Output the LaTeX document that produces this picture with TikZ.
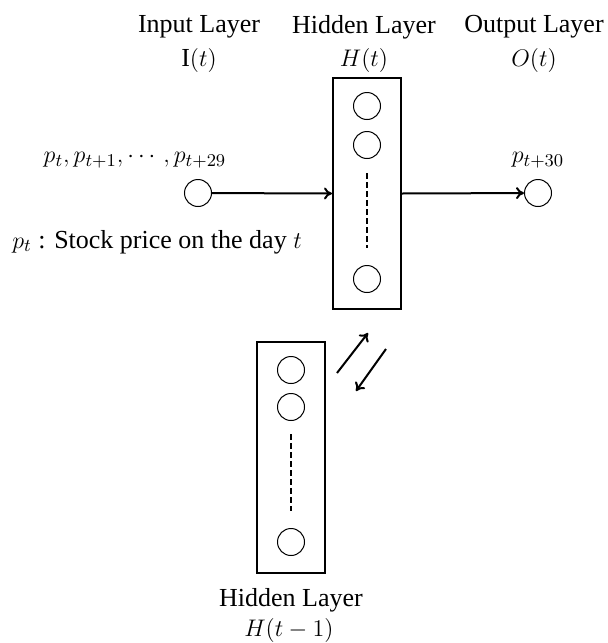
\documentclass[tikz,border=0pt]{standalone}
\usepackage{fontspec}
\setmainfont{Liberation Serif}
\usepackage{amsmath}
\usepackage{tikz}
\usetikzlibrary{arrows.meta,positioning}

\begin{document}
\begin{tikzpicture}[
    x=0.5pt, y=-0.5pt,
    every node/.style={font=\fontsize{13}{15}\selectfont},
    layer/.style={draw, line width=1pt, minimum width=34pt, minimum height=115.5pt,
                  inner sep=0pt},
    unit/.style={draw, circle, line width=0.5pt, minimum size=13.5pt, inner sep=0pt},
    title/.style={align=center, inner sep=1pt},
    arrow/.style={-{To[length=4pt,width=6pt]}, line width=1pt},
    dots/.style={dashed, line width=0.8pt, dash pattern=on 3pt off 1.5pt}
]
\useasboundingbox (0,0) rectangle (607,643);

% layers
\node[layer] (hid) at (367,193.5) {};
\node[layer] (prev) at (291,457) {};

% units
\node[unit] (in) at (198,193) {};
\node[unit] (out) at (538,193) {};
\node[unit] (h1) at (367,106) {};
\node[unit] (h2) at (367,145) {};
\node[unit] (h3) at (367,279) {};
\node[unit] (g1) at (291,370) {};
\node[unit] (g2) at (291,407) {};
\node[unit] (g3) at (291,542) {};
\draw[dots] ([yshift=-7pt]h2.south) -- ([yshift=8.5pt]h3.north);
\draw[dots] ([yshift=-6.5pt]g2.south) -- ([yshift=8.5pt]g3.north);

% titles
\node[title] (tin) at (199,27) {Input Layer};
\node[title] (tin2) at (199,60) {I$(t)$};
\node[title] (thid) at (364,27) {Hidden Layer};
\node[title] (thid2) at (364,60) {$H(t)$};
\node[title] (tout) at (534,27) {Output Layer};
\node[title] (tout2) at (534,60) {$O(t)$};
\node[title] (tprev) at (291,600) {Hidden Layer};
\node[title] (tprev2) at (289,630) {$H(t-1)$};

\node[title] (xin) at (135,160) {$p_t, p_{t+1}, \cdots, p_{t+29}$};
\node[title] (xout) at (538,160) {$p_{t+30}$};
\node[title, anchor=west] (note) at (10,242) {$p_t$~: Stock price on the day $t$};

% connections
\draw[arrow] (in) -- (hid.west);
\draw[arrow] (hid.east) -- (out);
\coordinate (r1) at (337,373);
\coordinate (r2) at (368,333);
\coordinate (r3) at (386,349);
\coordinate (r4) at (356,391);
\draw[arrow] (r1) -- (r2);
\draw[arrow] (r3) -- (r4);
\end{tikzpicture}
\end{document}
